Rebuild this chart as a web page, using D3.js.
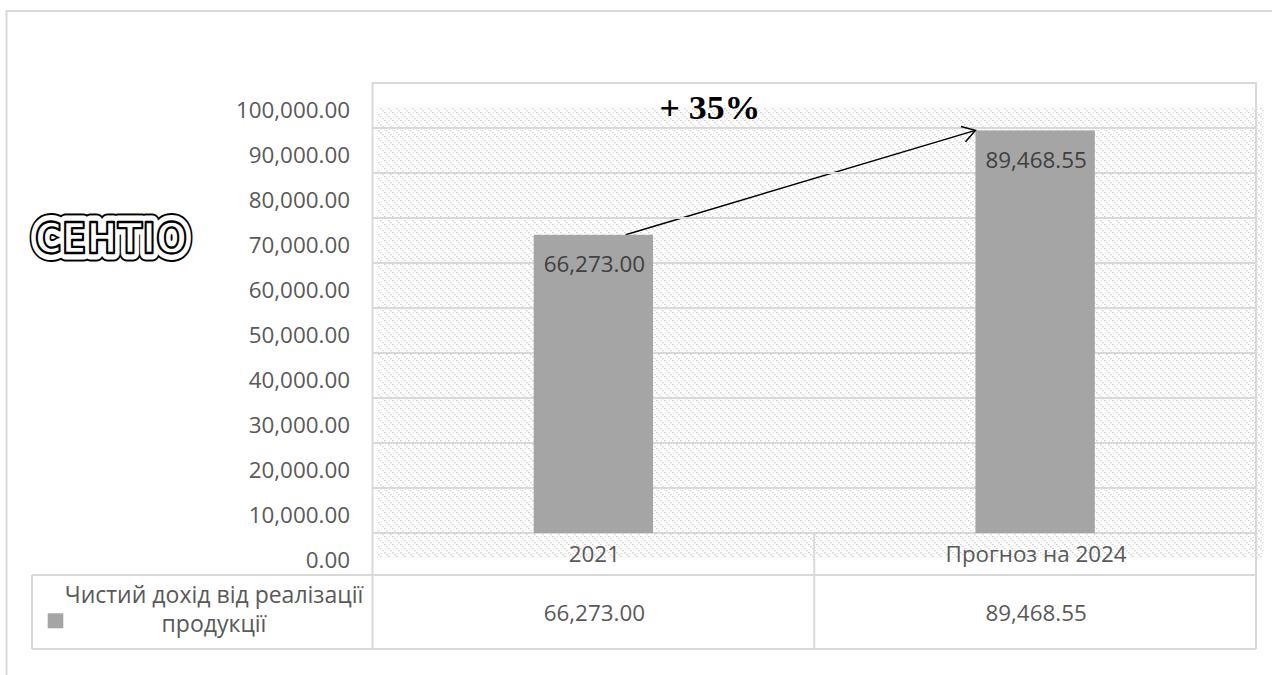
<!DOCTYPE html>
<html>
<head>
<meta charset="utf-8">
<script src="https://cdn.jsdelivr.net/npm/d3@7"></script>
<style>
  html, body { margin: 0; padding: 0; background: #ffffff; }
  svg { display: block; }
</style>
</head>
<body>
<svg id="chart" width="1272" height="675"></svg>
<script>
// Revenue data: actual 2021 and forecast for 2024
const categories = ["2021", "Прогноз на 2024"];
const values = [66273.00, 89468.55];
const seriesName = ["Чистий дохід від реалізації", "продукції"];
const yTicks = [0, 10000, 20000, 30000, 40000, 50000, 60000, 70000, 80000, 90000, 100000];
const logoText = "СЕНТІО";

const W = 1272, H = 675;
const plot = { left: 372.5, right: 1256, top: 83, bottom: 533 };
const tableRow1 = 575, tableBottom = 649, tableLeft = 32;

const gridColor = "#d9d9d9";
const textColor = "#595959";
const barColor = "#a5a5a5";
const font = "'Open Sans', 'Noto Sans', sans-serif";
const fs = 22.4;

const svg = d3.select("#chart");
const defs = svg.append("defs");

// light dotted diagonal texture for the plot background
const pat = defs.append("pattern")
  .attr("id", "hatch").attr("patternUnits", "userSpaceOnUse")
  .attr("width", 8).attr("height", 8);
pat.append("rect").attr("width", 8).attr("height", 8).attr("fill", "#ffffff");
[[0, 0], [2, 2], [4, 4], [6, 6]].forEach(([px, py]) => {
  pat.append("rect").attr("x", px).attr("y", py).attr("width", 1.6).attr("height", 1.3).attr("fill", "#d0d0d0");
});
[[4, 0], [0, 4]].forEach(([px, py]) => {
  pat.append("rect").attr("x", px + 1).attr("y", py + 1).attr("width", 1).attr("height", 1).attr("fill", "#e4e4e4");
});

// scales
const x = d3.scaleBand().domain(categories).range([plot.left, plot.right]).paddingInner(0).paddingOuter(0);
const y = d3.scaleLinear().domain([0, 100000]).range([plot.bottom, plot.top]);
const gapWidth = 2.7;
const barW = x.bandwidth() / (1 + gapWidth);
const barX = c => x(c) + (x.bandwidth() - barW) / 2;

// outer chart frame
svg.append("rect")
  .attr("x", 6.5).attr("y", 11).attr("width", W + 20).attr("height", H + 20)
  .attr("fill", "none").attr("stroke", gridColor).attr("stroke-width", 2);

// textured background, drawn slightly offset from the plot frame
const shift = { x: 4.5, y: 24 };
svg.append("rect")
  .attr("x", plot.left + shift.x).attr("y", plot.top + shift.y)
  .attr("width", plot.right - plot.left + 3).attr("height", plot.bottom - plot.top + 1)
  .attr("fill", "url(#hatch)");

// growth arrow shaft (under the gridlines)
const x0 = barX(categories[0]) + barW * 0.77;
const y0 = y(values[0]);
const x1 = barX(categories[1]);
const y1 = y(values[1]);
svg.append("line")
  .attr("x1", x0).attr("y1", y0).attr("x2", x1).attr("y2", y1)
  .attr("stroke", "#000").attr("stroke-width", 1.5);

// gridlines
svg.append("g").selectAll("line").data(yTicks).join("line")
  .attr("x1", plot.left).attr("x2", plot.right)
  .attr("y1", d => y(d)).attr("y2", d => y(d))
  .attr("stroke", gridColor).attr("stroke-width", 2);

// plot frame
svg.append("path")
  .attr("d", `M${plot.left},${tableBottom} V${plot.top} H${plot.right} V${tableBottom}`)
  .attr("fill", "none").attr("stroke", gridColor).attr("stroke-width", 2);

// bars
svg.append("g").selectAll("rect").data(categories).join("rect")
  .attr("x", d => barX(d))
  .attr("width", barW)
  .attr("y", (d, i) => y(values[i]))
  .attr("height", (d, i) => y(0) - y(values[i]))
  .attr("fill", barColor);

// value labels inside bar tops
const fmt = d3.format(",.2f");
svg.append("g").selectAll("text").data(categories).join("text")
  .attr("x", d => x(d) + x.bandwidth() / 2 + 1)
  .attr("y", (d, i) => y(values[i]) + 37.7)
  .attr("text-anchor", "middle")
  .attr("font-family", font).attr("font-size", fs)
  .attr("fill", "#404040")
  .text((d, i) => fmt(values[i]));

// arrow head
const ang = Math.atan2(y1 - y0, x1 - x0);
const headLen = 15, headSpread = 32 * Math.PI / 180;
const hp = a => [x1 - headLen * Math.cos(ang + a), y1 - headLen * Math.sin(ang + a)];
const h1 = hp(headSpread), h2 = hp(-headSpread);
svg.append("path")
  .attr("d", `M${h1[0]},${h1[1]} L${x1},${y1} L${h2[0]},${h2[1]}`)
  .attr("fill", "none").attr("stroke", "#000").attr("stroke-width", 1.5);

// growth annotation
const growth = Math.round((values[1] / values[0] - 1) * 100);
svg.append("text")
  .attr("x", x(categories[0]) + x.bandwidth() / 2 + 66)
  .attr("y", 118.5)
  .attr("font-family", "'Liberation Serif', 'Times New Roman', serif")
  .attr("font-weight", "bold").attr("font-size", 34)
  .attr("textLength", 101).attr("lengthAdjust", "spacingAndGlyphs")
  .attr("fill", "#000")
  .text(`+ ${growth}%`);

// y axis labels
const yAxis = d3.axisLeft(y).tickValues(yTicks).tickFormat(fmt).tickSize(0).tickPadding(22.5);
const gy = svg.append("g")
  .attr("transform", `translate(${plot.left},27.5)`)
  .call(yAxis);
gy.select(".domain").remove();
gy.selectAll("text").attr("font-family", font).attr("font-size", fs).attr("fill", textColor);

// data table lines
const tbl = svg.append("g").attr("stroke", gridColor).attr("stroke-width", 2).attr("fill", "none");
tbl.append("line").attr("x1", x(categories[1])).attr("x2", x(categories[1])).attr("y1", plot.bottom).attr("y2", tableBottom);
tbl.append("line").attr("x1", tableLeft).attr("x2", plot.right).attr("y1", tableRow1).attr("y2", tableRow1);
tbl.append("line").attr("x1", tableLeft).attr("x2", plot.right).attr("y1", tableBottom).attr("y2", tableBottom);
tbl.append("line").attr("x1", tableLeft).attr("x2", tableLeft).attr("y1", tableRow1).attr("y2", tableBottom);

// category labels
svg.append("g").selectAll("text").data(categories).join("text")
  .attr("x", d => x(d) + x.bandwidth() / 2 + 1)
  .attr("y", plot.bottom + 28.7)
  .attr("text-anchor", "middle")
  .attr("font-family", font).attr("font-size", fs).attr("fill", textColor)
  .text(d => d);

// table values
svg.append("g").selectAll("text").data(categories).join("text")
  .attr("x", d => x(d) + x.bandwidth() / 2 + 1)
  .attr("y", 620.7)
  .attr("text-anchor", "middle")
  .attr("font-family", font).attr("font-size", fs).attr("fill", textColor)
  .text((d, i) => fmt(values[i]));

// legend key and series name
svg.append("rect")
  .attr("x", 47.7).attr("y", 613.3).attr("width", 15.6).attr("height", 15)
  .attr("fill", barColor);
svg.append("text")
  .attr("text-anchor", "middle")
  .attr("font-family", font).attr("font-size", 23).attr("fill", textColor)
  .selectAll("tspan").data(seriesName).join("tspan")
  .attr("x", 214).attr("y", (d, i) => 602.7 + i * 29)
  .text(d => d);

// company logo: outlined lettering
const logo = svg.append("g").attr("transform", "translate(111,253)");
const logoAttrs = sel => sel
  .attr("text-anchor", "middle")
  .attr("font-family", "'DejaVu Sans', sans-serif")
  .attr("font-weight", "bold").attr("font-size", 43)
  .attr("textLength", 152).attr("lengthAdjust", "spacingAndGlyphs")
  .attr("stroke-linejoin", "round")
  .text(logoText);
logo.append("text").call(logoAttrs).attr("fill", "#000").attr("stroke", "#000").attr("stroke-width", 17);
logo.append("text").call(logoAttrs).attr("fill", "#fff").attr("stroke", "#fff").attr("stroke-width", 13);
logo.append("text").call(logoAttrs).attr("fill", "#fff").attr("stroke", "#000").attr("stroke-width", 2.4);
</script>
</body>
</html>
